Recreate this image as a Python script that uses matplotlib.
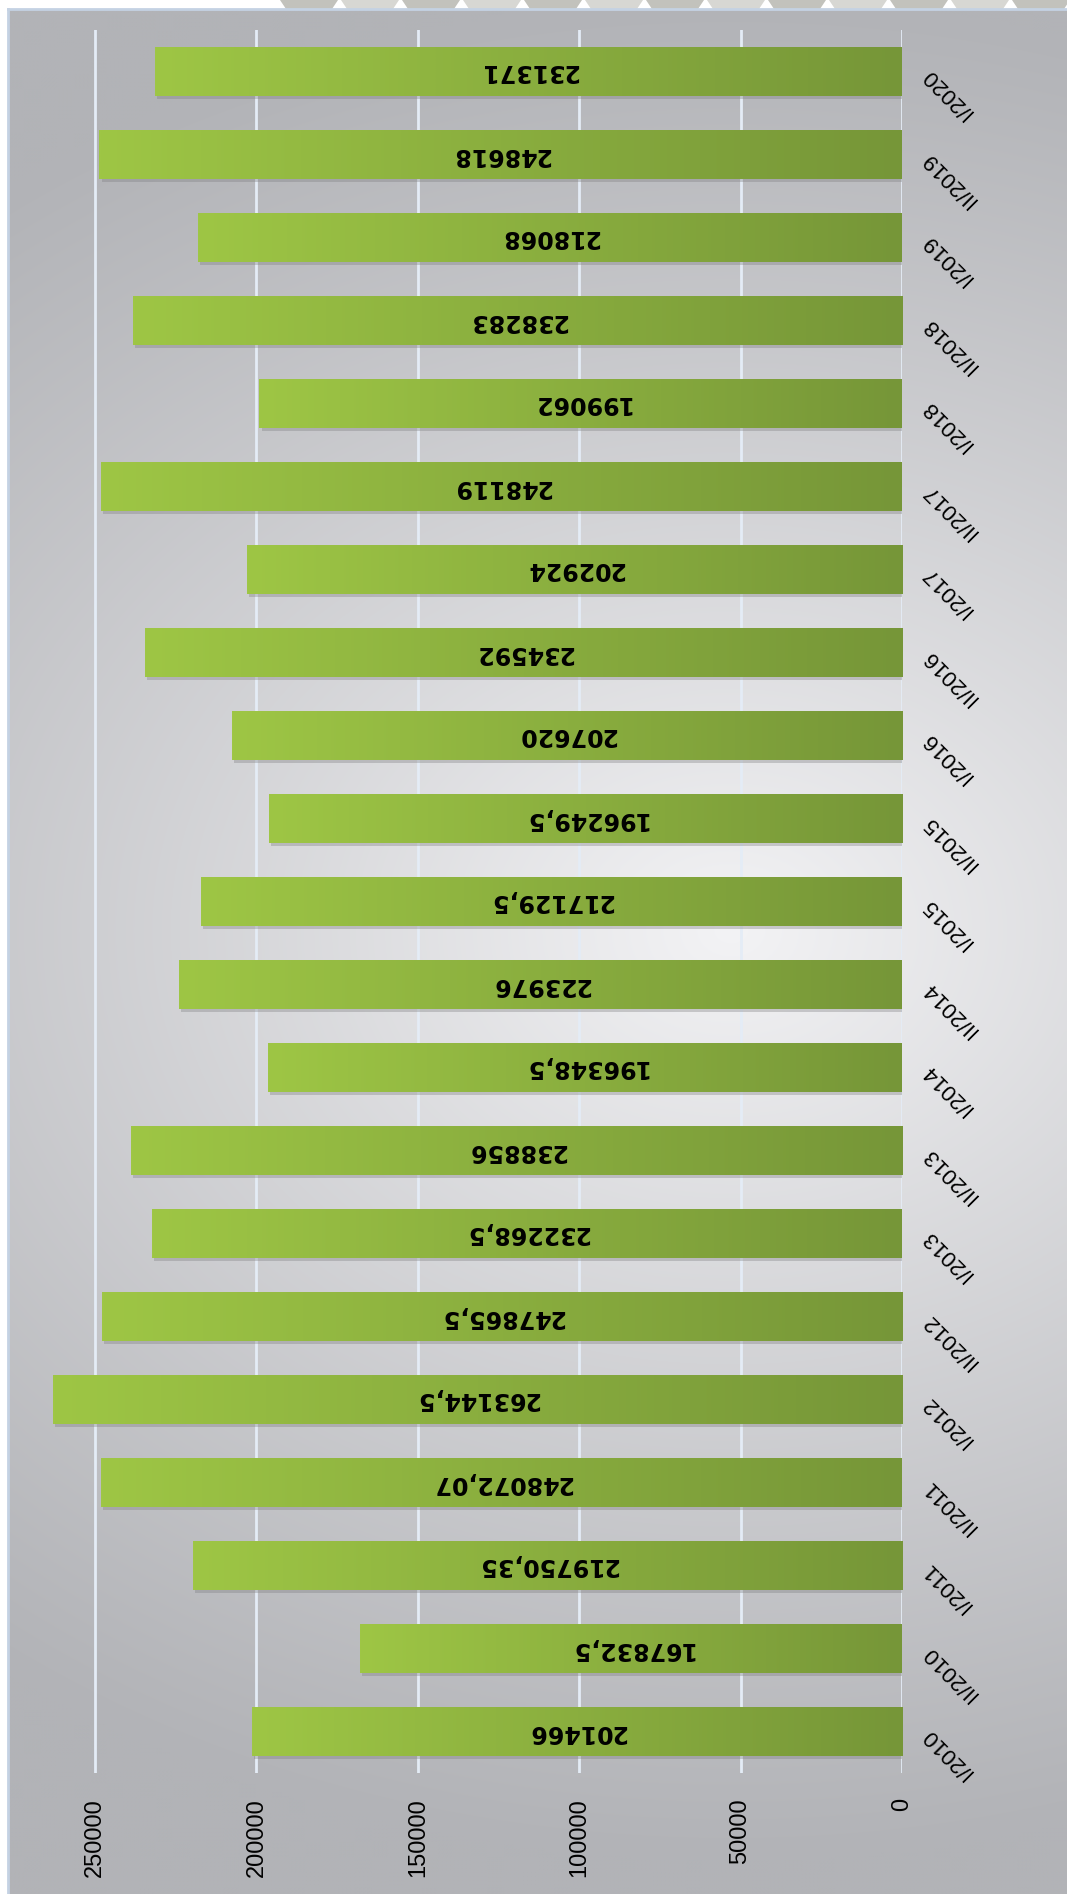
import numpy as np
import matplotlib.pyplot as plt
from matplotlib import patheffects
from matplotlib.patches import Polygon
from matplotlib.lines import Line2D

# half-year periods, bottom to top
periods = ["I/2010", "II/2010", "I/2011", "II/2011", "I/2012", "II/2012",
           "I/2013", "II/2013", "I/2014", "II/2014", "I/2015", "II/2015",
           "I/2016", "II/2016", "I/2017", "II/2017", "I/2018", "II/2018",
           "I/2019", "II/2019", "I/2020"]
values = [201466, 167832.5, 219750.35, 248072.07, 263144.5, 247865.5,
          232268.5, 238856, 196348.5, 223976, 217129.5, 196249.5,
          207620, 234592, 202924, 248119, 199062, 238283,
          218068, 248618, 231371]
value_ticks = [0, 50000, 100000, 150000, 200000, 250000]

W, H = 1067, 1894
fig = plt.figure(figsize=(W / 100, H / 100), dpi=100)
fig.patch.set_facecolor("white")

# chart area background: grey with a soft light centre
bg = fig.add_axes([8 / W, 0, 1 - 8 / W, 1 - 9 / H], zorder=0)
yy, xx = np.mgrid[9:H:4, 8:W:4]
r = np.sqrt(((xx - 730) / 1200.0) ** 2 + ((yy - 930) / 930.0) ** 2)
f = np.clip(1 - r, 0, 1) ** 1.1
edge = np.array([0xb2, 0xb3, 0xb7]) / 255
mid = np.array([0xf3, 0xf3, 0xf5]) / 255
img = edge + (mid - edge) * f[..., None]
bg.imshow(img, aspect="auto", interpolation="bilinear")
bg.axis("off")

# decorative strip across the top edge
for k, x0 in enumerate(range(280, W + 60, 61)):
    col = "#c2c2bc" if k % 2 == 0 else "#d7d7d3"
    pts = [(x0, 0), (x0 + 58, 0), (x0 + 52, 9), (x0 + 6, 9)]
    fig.add_artist(Polygon([(px / W, 1 - py / H) for px, py in pts],
                           closed=True, facecolor=col, edgecolor="none",
                           transform=fig.transFigure, zorder=1))

# chart area border (left and top)
fig.add_artist(Line2D([8 / W, 8 / W], [0, 1 - 9 / H], color="#c4d2e3", lw=2,
                      transform=fig.transFigure, zorder=2))
fig.add_artist(Line2D([8 / W, 1], [1 - 9 / H, 1 - 9 / H], color="#c4d2e3", lw=2,
                      transform=fig.transFigure, zorder=2))

ax = fig.add_axes([10 / W, 1 - 1773 / H, 892 / W, 1743 / H], zorder=3)
ax.set_facecolor("none")

ypos = np.arange(len(periods))
bh = 0.58
bars = ax.barh(ypos, values, height=bh, color="#8aae3f", edgecolor="none", zorder=3)
light = np.array([0x9e, 0xc6, 0x45]) / 255
dark = np.array([0x76, 0x96, 0x38]) / 255
grad = np.linspace(0, 1, 256)[:, None]
grad_img = (dark + (light - dark) * grad)[None, :, :]
for b, v, y in zip(bars, values, ypos):
    b.set_path_effects([patheffects.SimplePatchShadow(offset=(1.5, -2.5),
                                                      shadow_rgbFace="#7d7d80",
                                                      alpha=0.35),
                        patheffects.Normal()])
    im = ax.imshow(grad_img, extent=(0, v, y - bh / 2, y + bh / 2),
                   aspect="auto", origin="lower", zorder=4, interpolation="bilinear")
    im.set_clip_path(b)


def fmt(v):
    s = f"{v:.2f}".rstrip("0").rstrip(".")
    return s.replace(".", ",")


for v, y in zip(values, ypos):
    ax.text(v / 2, y, fmt(v), rotation=180, ha="center", va="center",
            fontsize=17, fontweight="bold", color="black",
            family="DejaVu Sans", zorder=5)

xmax = (902 - 10) / 807 * 250000
ax.set_xlim(xmax, 0)
ax.set_ylim(-0.5, len(periods) - 0.5)

ax.set_xticks(value_ticks)
ax.set_xticklabels([str(t) for t in value_ticks], rotation=90, va="top",
                   ha="center", family="Liberation Sans", fontsize=17)
ax.tick_params(axis="x", length=0, pad=18)

ax.yaxis.set_ticks_position("right")
ax.set_yticks(ypos)
ax.set_yticklabels(periods, rotation=135, ha="right", va="center",
                   rotation_mode="anchor", family="Liberation Sans", fontsize=16)
ax.tick_params(axis="y", length=0, pad=17)

for t in value_ticks:
    ax.axvline(t, color="#e4ecf6", lw=2, zorder=2)
for s in ax.spines.values():
    s.set_visible(False)

fig.savefig("out.png", dpi=100)
